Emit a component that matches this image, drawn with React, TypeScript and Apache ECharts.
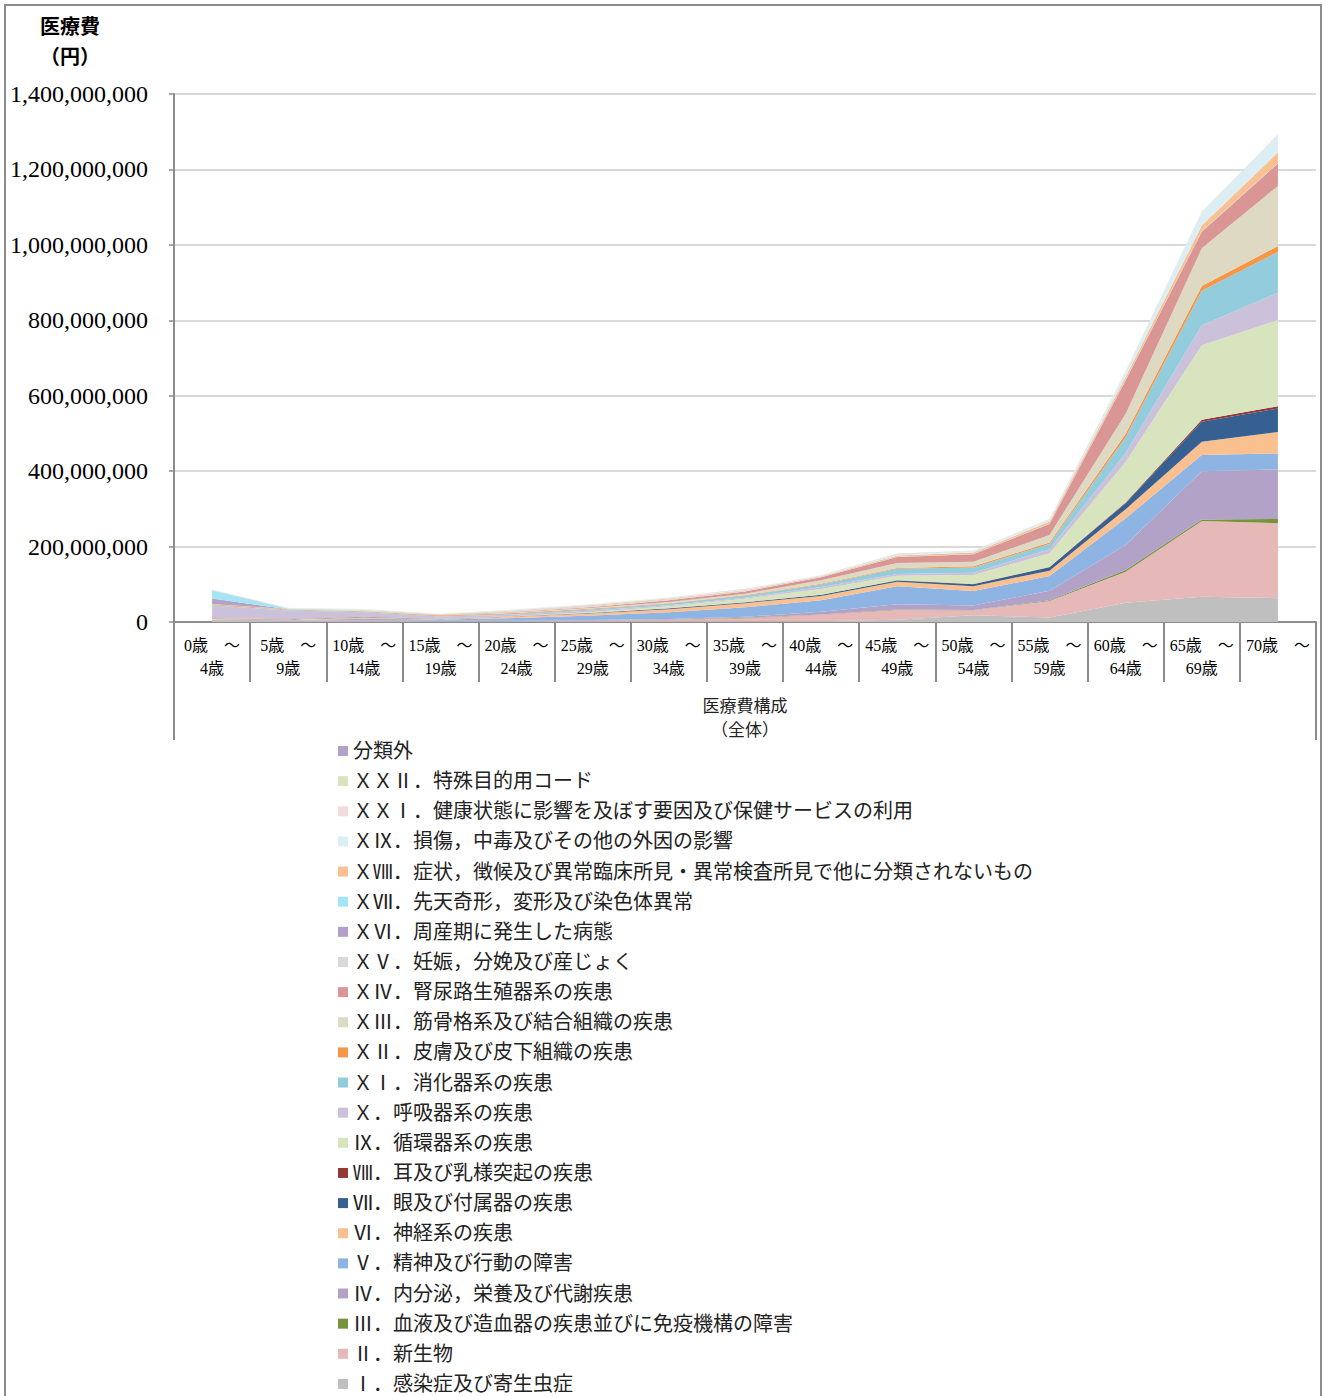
import React, { useEffect, useRef } from 'react';
import * as echarts from 'echarts';

const categories = [
  '0歳　～\n4歳', '5歳　～\n9歳', '10歳　～\n14歳', '15歳　～\n19歳', '20歳　～\n24歳',
  '25歳　～\n29歳', '30歳　～\n34歳', '35歳　～\n39歳', '40歳　～\n44歳', '45歳　～\n49歳',
  '50歳　～\n54歳', '55歳　～\n59歳', '60歳　～\n64歳', '65歳　～\n69歳', '70歳　～',
];

// values in millions of yen (bottom of the stack first)
const v01 = [3, 2, 2, 1, 1, 1, 1, 1, 2, 6, 18, 12, 51, 67, 63];
const v02 = [1, 1, 1, 1, 1, 2, 4, 9, 17, 26, 13, 44, 82, 201, 199];
const v03 = [0.5, 0.3, 0.3, 0.3, 0.3, 0.5, 1, 1, 1, 1, 1, 2, 5, 4, 11];
const v04 = [1, 1, 2, 1, 1, 2, 2, 3, 7, 14, 12, 25, 66, 128, 132];
const v05 = [0.5, 1, 3, 3, 7, 12, 18, 25, 31, 48, 38, 39, 71, 43, 42];
const v06 = [2, 1, 4, 1, 4, 6, 8, 11, 11, 12, 13, 14, 24, 35, 57];
const v07 = [0.5, 0.5, 1, 0.5, 0.5, 1, 2, 2, 3, 3, 5, 9, 16, 53, 62];
const v08 = [1, 0.3, 0.3, 0.2, 0.2, 0.3, 0.5, 0.5, 0.5, 0.5, 0.5, 1, 2, 5, 6];
const v09 = [0.5, 0.5, 0.5, 0.5, 1, 2, 5, 9, 15, 12, 24, 36, 107, 198, 229];
const v10 = [34, 23, 12, 6, 4, 4, 3, 3, 5, 5, 6, 11, 24, 53, 72];
const v11 = [1, 1, 1, 1, 2, 3, 4, 5, 7, 14, 14, 14, 42, 91, 108];
const v12 = [2, 1.5, 1.5, 1.5, 2, 2, 1.5, 1.5, 2, 2, 3, 4, 9, 13, 16];
const v13 = [0.5, 0.5, 1, 1, 2, 2, 3, 4, 9, 13, 12, 20, 53, 100, 159];
const v14 = [0.5, 0.5, 0.5, 0.5, 1, 2, 5, 6, 8, 16, 20, 29, 89, 44, 60];
const v15 = [0, 0, 0, 0.3, 2, 3, 2, 1, 0.2, 0, 0, 0, 0, 0, 0];
const v16 = [14, 0, 0, 0, 0, 0, 0, 0, 0, 0, 0, 0, 0, 0, 0];
const v17 = [22, 1, 1, 0.5, 0.5, 0.5, 0.5, 0.5, 0.5, 0.5, 0.5, 0.5, 1, 1, 1];
const v18 = [1, 1, 1, 1, 1.5, 2, 2, 2, 2, 3, 4, 6, 8, 15, 28];
const v19 = [1, 1.5, 2, 1.5, 2, 2, 2, 2, 3, 4, 5, 6, 15, 35, 45];
const v21 = [0.2, 0.2, 0.2, 0.2, 0.5, 0.5, 0.5, 0.5, 0.5, 0.5, 0.5, 1, 1, 2, 2];
const v22 = [0.1, 0.1, 0.1, 0.1, 0.1, 0.1, 0.1, 0.1, 0.1, 0.1, 0.1, 0.1, 0.2, 0.3, 0.3];
const vOther = [0.1, 0.1, 0.1, 0.1, 0.1, 0.1, 0.1, 0.1, 0.1, 0.1, 0.1, 0.1, 0.2, 0.2, 0.2];

const seriesNames = [
  'Ⅰ．感染症及び寄生虫症',
  'Ⅱ．新生物',
  'Ⅲ．血液及び造血器の疾患並びに免疫機構の障害',
  'Ⅳ．内分泌，栄養及び代謝疾患',
  'Ⅴ．精神及び行動の障害',
  'Ⅵ．神経系の疾患',
  'Ⅶ．眼及び付属器の疾患',
  'Ⅷ．耳及び乳様突起の疾患',
  'Ⅸ．循環器系の疾患',
  'Ｘ．呼吸器系の疾患',
  'ＸⅠ．消化器系の疾患',
  'ＸⅡ．皮膚及び皮下組織の疾患',
  'ＸⅢ．筋骨格系及び結合組織の疾患',
  'ＸⅣ．腎尿路生殖器系の疾患',
  'ＸⅤ．妊娠，分娩及び産じょく',
  'ＸⅥ．周産期に発生した病態',
  'ＸⅦ．先天奇形，変形及び染色体異常',
  'ＸⅧ．症状，徴候及び異常臨床所見・異常検査所見で他に分類されないもの',
  'ＸⅨ．損傷，中毒及びその他の外因の影響',
  'ＸＸⅠ．健康状態に影響を及ぼす要因及び保健サービスの利用',
  'ＸＸⅡ．特殊目的用コード',
  '分類外',
];

const seriesValues = [v01, v02, v03, v04, v05, v06, v07, v08, v09, v10, v11, v12, v13, v14, v15, v16, v17, v18, v19, v21, v22, vOther];

const seriesColors = [
  '#BFBFBF', '#E6B9B8', '#77933C', '#B3A2C7', '#8EB4E3', '#FAC090', '#376092', '#953735',
  '#D7E4BD', '#CCC1DA', '#93CDDD', '#F79646', '#DDD9C3', '#D99694', '#D9D9D9', '#B3A2C7',
  '#A3E4F7', '#FAC090', '#DBEEF4', '#F2DCDB', '#D7E4BD', '#B3A2C7',
];

const FONT = '"Liberation Serif", "Noto Sans CJK JP", serif';

export default function App() {
  const ref = useRef<HTMLDivElement>(null);
  useEffect(() => {
    if (!ref.current) return;
    const chart = echarts.init(ref.current, undefined, { renderer: 'svg' });
    const axisGray = '#8C8C8C';
    const series = seriesNames.map((name, i) => ({
      name,
      type: 'line',
      stack: 'total',
      data: seriesValues[i].map((v) => v * 1e6),
      color: seriesColors[i],
      symbol: 'none',
      lineStyle: { width: 0 },
      areaStyle: { color: seriesColors[i], opacity: 1 },
      emphasis: { disabled: true },
    }));
    const lines: any[] = [];
    [174, 1316].forEach((x) => {
      lines.push({
        type: 'line',
        shape: { x1: x, y1: 622, x2: x, y2: 740 },
        style: { stroke: axisGray, lineWidth: 2 },
      });
    });
    chart.setOption({
      animation: false,
      backgroundColor: '#fff',
      grid: { left: 174, right: 9, top: 94, bottom: 774 },
      xAxis: {
        type: 'category',
        data: categories,
        boundaryGap: true,
        axisLine: { lineStyle: { color: axisGray, width: 2 } },
        axisTick: { show: true, length: 60, lineStyle: { color: axisGray, width: 2 } },
        axisLabel: {
          interval: 0,
          margin: 12,
          fontSize: 16,
          lineHeight: 23,
          color: '#000',
          fontFamily: FONT,
        },
        splitLine: { show: false },
      },
      yAxis: {
        type: 'value',
        min: 0,
        max: 1400000000,
        interval: 200000000,
        axisLine: { show: true, lineStyle: { color: axisGray, width: 2 } },
        axisTick: { show: true, length: 5, lineStyle: { color: axisGray, width: 1.5 } },
        axisLabel: {
          margin: 26,
          fontSize: 24,
          color: '#000',
          fontFamily: FONT,
          formatter: (v: number) => v.toLocaleString('en-US'),
        },
        splitLine: { show: true, lineStyle: { color: '#D9D9D9', width: 2 } },
      },
      legend: {
        orient: 'vertical',
        left: 338,
        top: 741,
        padding: 0,
        itemGap: 10.14,
        itemWidth: 10,
        itemHeight: 10,
        icon: 'rect',
        data: [...seriesNames].reverse(),
        textStyle: { fontSize: 20, lineHeight: 20, color: '#222', fontFamily: FONT },
        selectedMode: false,
      },
      graphic: [
        {
          type: 'rect',
          shape: { x: 5, y: 5, width: 1316, height: 1400 },
          style: { fill: 'none', stroke: axisGray, lineWidth: 2 },
          silent: true,
        },
        ...lines,
        {
          type: 'text', x: 70, y: 25,
          style: {
            text: '医療費', textAlign: 'center', textVerticalAlign: 'middle',
            font: 'bold 20px "Noto Sans CJK JP"', fill: '#000',
          },
        },
        {
          type: 'text', x: 70, y: 55,
          style: {
            text: '（円）', textAlign: 'center', textVerticalAlign: 'middle',
            font: 'bold 20px "Noto Sans CJK JP"', fill: '#000',
          },
        },
        {
          type: 'text', x: 745, y: 716,
          style: {
            text: '医療費構成\n（全体）', textAlign: 'center', textVerticalAlign: 'middle',
            font: '17px "Noto Sans CJK JP"', lineHeight: 24, fill: '#222',
          },
        },
      ],
      series,
    });
    return () => chart.dispose();
  }, []);
  return (
    <div
      ref={ref}
      style={{ position: 'absolute', left: 0, top: 0, width: 1325, height: 1396 }}
    />
  );
}
